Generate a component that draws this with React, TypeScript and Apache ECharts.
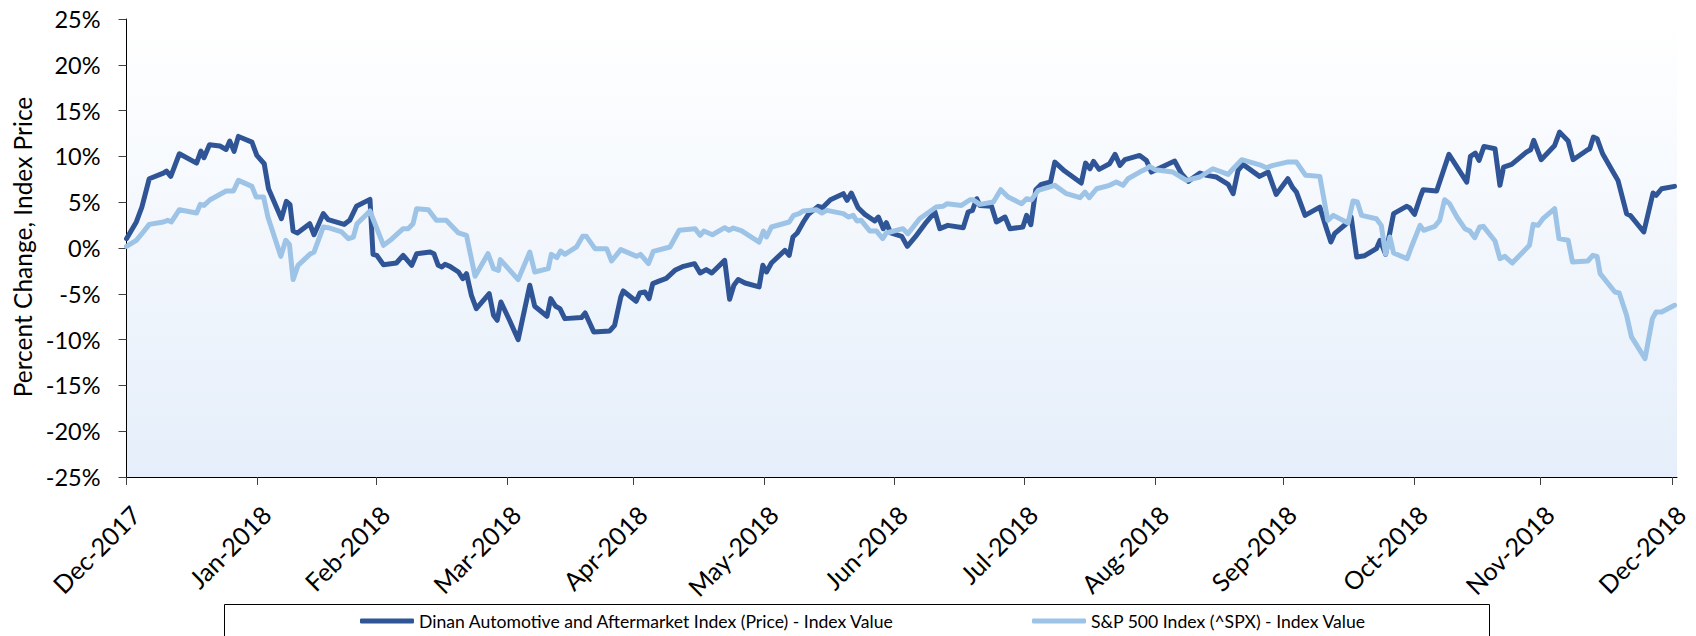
import React, { useEffect, useRef } from "react";
import * as echarts from "echarts";

// x = trading-day position (0 = first day, Dec-2017), y = percent change
const monthTicks = [0, 21.3, 40.6, 61.9, 82.5, 103.8, 124.8, 146.0, 167.3, 188.1, 209.4, 230.0, 251.4];
const monthLabels = [
  "Dec-2017", "Jan-2018", "Feb-2018", "Mar-2018", "Apr-2018", "May-2018", "Jun-2018",
  "Jul-2018", "Aug-2018", "Sep-2018", "Oct-2018", "Nov-2018", "Dec-2018",
];
const yTicks = { min: -25, max: 25, step: 5 };

const dinanName = "Dinan Automotive and Aftermarket Index (Price) - Index Value";
const spxName = "S&P 500 Index (^SPX) - Index Value";

const dinanPoints: [number, number][] = [
  [0, 1.02], [1.6, 2.84], [2.5, 4.47], [3.7, 7.56], [6.0, 8.18], [6.5, 8.4], [7.2, 7.82], [8.6, 10.29],
  [11.4, 9.27], [12.1, 10.58], [12.6, 9.85], [13.5, 11.27], [15.2, 11.13], [16.2, 10.76], [16.8, 11.67],
  [17.5, 10.55], [18.2, 12.18], [20.4, 11.56], [21.2, 10.11], [22.4, 9.2], [23.1, 6.47], [25.2, 3.2],
  [26.0, 5.09], [26.6, 4.73], [27.1, 1.85], [27.8, 1.64], [29.8, 2.65], [30.5, 1.45], [32.0, 3.75],
  [32.8, 3.09], [35.4, 2.58], [36.3, 3.02], [37.4, 4.55], [39.6, 5.31], [40.1, -0.69], [40.7, -0.8],
  [41.8, -1.82], [43.9, -1.64], [45.0, -0.8], [46.4, -1.89], [47.2, -0.62], [49.4, -0.44], [50.0, -0.62],
  [50.7, -1.89], [51.3, -2.07], [51.8, -1.78], [52.6, -2.0], [54.0, -2.62], [54.7, -3.35], [55.3, -2.8],
  [56.1, -5.16], [56.9, -6.62], [59.0, -4.98], [59.7, -7.35], [60.3, -7.89], [60.9, -5.89], [62.3, -7.89],
  [63.7, -10.0], [65.6, -4.07], [66.4, -6.36], [68.4, -7.45], [69.0, -5.53], [69.8, -6.36], [70.5, -6.62],
  [71.3, -7.71], [74.0, -7.6], [74.6, -7.09], [76.0, -9.16], [78.6, -9.05], [79.4, -8.44], [80.4, -5.35],
  [80.8, -4.69], [82.9, -5.82], [83.5, -4.91], [84.3, -4.8], [85.0, -5.53], [85.6, -3.89], [86.5, -3.64],
  [87.8, -3.31], [89.2, -2.44], [90.6, -2.0], [92.4, -1.71], [93.3, -2.73], [94.3, -2.36], [95.2, -2.73],
  [97.3, -1.35], [98.1, -5.6], [98.8, -4.07], [99.5, -3.45], [100.6, -3.82], [102.9, -4.25], [103.5, -1.89],
  [104.1, -2.62], [104.9, -1.64], [107.1, -0.25], [107.8, -0.8], [108.4, 1.2], [109.1, 1.64], [110.1, 2.84],
  [110.9, 3.67], [112.5, 4.55], [113.2, 4.4], [114.5, 5.27], [116.6, 5.93], [117.2, 5.2], [117.9, 6.0],
  [119.0, 4.4], [120.1, 3.67], [121.7, 2.95], [122.3, 3.38], [123.1, 2.11], [123.6, 2.76], [124.3, 1.64],
  [126.1, 1.27], [127.0, 0.18], [128.5, 1.38], [129.9, 2.65], [131.5, 3.93], [132.3, 2.11], [133.6, 2.47],
  [136.1, 2.22], [136.9, 3.93], [137.6, 4.11], [138.3, 5.38], [138.8, 4.65], [140.7, 4.55], [141.5, 2.84],
  [142.9, 3.38], [143.7, 2.11], [145.8, 2.29], [146.4, 3.56], [147.1, 2.55], [147.9, 6.36], [148.8, 6.95],
  [150.3, 7.2], [151.0, 9.38], [152.6, 8.4], [155.3, 7.09], [156.0, 9.27], [156.7, 8.65], [157.3, 9.45],
  [158.2, 8.58], [159.9, 9.2], [160.8, 10.22], [161.6, 9.02], [162.4, 9.64], [164.8, 10.11], [165.9, 9.56],
  [166.7, 8.29], [170.5, 9.49], [171.6, 8.11], [172.7, 7.27], [174.6, 8.18], [175.7, 7.93], [177.3, 7.75],
  [179.2, 6.95], [180.0, 5.93], [180.8, 8.47], [181.6, 9.13], [184.3, 7.82], [185.7, 8.29], [187.0, 5.85],
  [188.9, 7.56], [189.7, 6.58], [190.3, 6.11], [191.7, 3.56], [194.1, 4.47], [195.1, 2.29], [195.9, 0.65],
  [196.5, 1.56], [198.4, 2.65], [199.2, 3.38], [200.1, -0.98], [201.4, -0.84], [203.3, -0.07], [203.9, 0.84],
  [204.8, -0.69], [206.1, 3.75], [208.2, 4.55], [208.7, 4.4], [209.5, 3.67], [210.4, 5.49], [210.9, 6.36],
  [213.1, 6.22], [215.1, 10.22], [218.0, 7.2], [218.6, 10.0], [219.4, 10.36], [220.0, 9.56], [220.8, 11.09],
  [222.6, 10.84], [223.4, 6.84], [224.0, 8.84], [225.3, 9.13], [227.7, 10.47], [228.4, 10.73], [228.9, 11.75],
  [230.1, 9.64], [232.3, 11.2], [233.1, 12.65], [234.5, 11.67], [235.3, 9.64], [237.5, 10.65], [238.0, 10.84],
  [238.6, 12.11], [239.2, 11.93], [240.1, 10.29], [241.8, 8.29], [242.6, 7.38], [244.0, 3.75], [244.6, 3.56],
  [246.8, 1.75], [248.3, 6.0], [248.8, 5.75], [249.7, 6.47], [251.8, 6.73],
];

const spxPoints: [number, number][] = [
  [0, 0.18], [1.6, 0.84], [2.5, 1.56], [3.7, 2.58], [6.0, 2.84], [6.7, 3.02], [7.3, 2.84], [8.6, 4.18],
  [11.4, 3.82], [12.0, 4.76], [12.6, 4.65], [13.6, 5.27], [16.2, 6.22], [17.4, 6.22], [18.2, 7.38],
  [20.4, 6.73], [21.1, 5.56], [22.3, 5.56], [23.0, 3.38], [25.1, -0.91], [25.9, 0.84], [26.5, 0.4],
  [27.1, -3.45], [27.9, -1.89], [29.8, -0.69], [30.5, -0.44], [32.0, 2.29], [32.8, 2.22], [35.0, 1.75],
  [36.1, 1.02], [36.9, 1.2], [37.5, 2.65], [39.6, 4.04], [41.8, 0.29], [42.9, 0.84], [45.0, 2.11],
  [45.8, 2.11], [46.6, 2.65], [47.2, 4.29], [49.1, 4.18], [50.4, 3.02], [52.0, 3.02], [54.0, 1.64],
  [55.3, 1.38], [56.7, -3.09], [58.8, -0.62], [59.7, -2.25], [60.5, -2.44], [60.8, -1.27], [63.7, -3.45],
  [65.6, -0.44], [66.4, -2.62], [68.6, -2.25], [69.1, -0.69], [70.0, -1.05], [70.6, -0.33], [71.3, -0.69],
  [73.2, 0.11], [74.2, 1.27], [74.8, 1.27], [76.2, -0.07], [78.1, -0.07], [78.9, -1.42], [80.4, -0.18],
  [83.0, -0.91], [83.6, -0.69], [84.9, -1.71], [85.7, -0.36], [88.4, 0.11], [89.9, 1.93], [92.5, 2.11],
  [93.3, 1.38], [93.9, 1.85], [95.3, 1.45], [97.3, 2.22], [98.0, 1.93], [98.7, 2.18], [100.0, 1.9],
  [102.9, 0.65], [103.6, 1.85], [104.1, 1.2], [104.9, 2.29], [107.8, 2.84], [108.5, 3.56], [109.4, 3.75],
  [110.1, 4.04], [112.2, 4.18], [113.1, 3.82], [113.9, 4.11], [116.6, 3.75], [117.4, 3.38], [118.2, 3.56],
  [118.8, 2.95], [119.5, 3.02], [120.9, 1.85], [122.0, 1.85], [123.0, 1.02], [123.6, 1.64], [126.3, 2.11],
  [127.1, 1.56], [129.0, 3.2], [131.7, 4.47], [132.8, 4.55], [133.5, 4.84], [135.8, 4.65], [137.2, 5.27],
  [137.7, 5.27], [138.8, 4.76], [141.0, 5.02], [142.2, 6.36], [143.4, 5.56], [145.6, 4.84], [146.4, 5.38],
  [147.2, 5.27], [148.3, 6.29], [151.0, 6.84], [152.9, 5.93], [155.1, 5.49], [155.9, 6.11], [156.6, 5.49],
  [157.8, 6.47], [159.9, 6.84], [161.0, 7.2], [162.1, 6.84], [162.9, 7.56], [164.8, 8.29], [165.9, 8.65],
  [166.4, 8.91], [167.3, 8.55], [170.2, 8.29], [172.4, 7.38], [174.6, 7.75], [176.7, 8.65], [179.2, 8.04],
  [180.0, 8.65], [181.4, 9.64], [184.6, 9.02], [185.4, 8.76], [186.5, 9.02], [188.8, 9.38], [190.3, 9.38],
  [191.8, 7.93], [194.1, 7.82], [195.4, 3.02], [196.3, 3.56], [198.7, 2.73], [199.5, 5.13], [200.2, 5.02],
  [200.9, 3.56], [203.3, 3.2], [204.1, 2.47], [204.8, -0.69], [205.5, 1.2], [206.1, -0.55], [208.3, -1.16],
  [209.0, 0.11], [210.4, 2.47], [211.0, 1.93], [212.8, 2.36], [213.6, 3.02], [214.4, 5.27], [215.2, 4.84],
  [216.4, 3.38], [217.7, 2.11], [218.5, 1.85], [219.3, 1.13], [220.1, 2.29], [220.7, 2.36], [222.6, 0.76],
  [223.4, -1.16], [224.2, -0.91], [225.4, -1.64], [228.2, 0.29], [228.8, 2.58], [229.6, 2.47], [230.4, 3.2],
  [232.3, 4.29], [233.0, 1.02], [234.5, 0.84], [235.2, -1.53], [237.7, -1.42], [238.5, -0.8], [239.2, -0.91],
  [239.7, -2.8], [242.1, -4.8], [242.8, -4.91], [244.0, -7.35], [244.8, -9.71], [247.0, -12.07], [248.2, -7.71],
  [248.8, -6.98], [249.7, -6.98], [251.8, -6.25],
];

const FONT = "Lato";

export default function App() {
  const ref = useRef<HTMLDivElement>(null);
  useEffect(() => {
    if (!ref.current) return;
    const chart = echarts.init(ref.current, null, { renderer: "svg" });
    const labelFor = (v: number) => {
      let best = 0;
      for (let i = 1; i < monthTicks.length; i++) {
        if (Math.abs(monthTicks[i] - v) < Math.abs(monthTicks[best] - v)) best = i;
      }
      return monthLabels[best];
    };
    chart.setOption({
      animation: false,
      backgroundColor: "#ffffff",
      textStyle: { fontFamily: FONT },
      grid: {
        left: 126.5,
        top: 19,
        width: 1550.5,
        height: 458,
        show: true,
        borderWidth: 0,
        backgroundColor: new echarts.graphic.LinearGradient(0, 0, 0, 1, [
          { offset: 0, color: "#ffffff" },
          { offset: 1, color: "#e5eefa" },
        ]),
      },
      xAxis: {
        type: "value",
        min: 0,
        max: 252.2,
        splitLine: { show: false },
        axisLine: { onZero: false, lineStyle: { color: "#000", width: 1 } },
        axisTick: { show: true, length: 8, customValues: monthTicks, lineStyle: { color: "#404040" } },
        axisLabel: {
          customValues: monthTicks,
          rotate: 45,
          margin: 24,
          verticalAlign: "top",
          fontFamily: FONT,
          fontSize: 25,
          color: "#000",
          formatter: (v: number) => labelFor(v),
        },
      },
      yAxis: {
        type: "value",
        min: yTicks.min,
        max: yTicks.max,
        interval: yTicks.step,
        splitLine: { show: false },
        axisLine: { show: true, lineStyle: { color: "#000", width: 1 } },
        axisTick: { show: true, length: 8, lineStyle: { color: "#404040" } },
        axisLabel: {
          margin: 26,
          fontFamily: FONT,
          fontSize: 23.5,
          color: "#000",
          formatter: (v: number) => `${v}%`,
        },
      },
      legend: [
        {
          data: [dinanName],
          left: 360,
          top: 612,
          padding: 0,
          icon: "roundRect",
          itemWidth: 54,
          itemHeight: 5,
          textStyle: { fontFamily: FONT, fontSize: 17.6, color: "#000" },
        },
        {
          data: [spxName],
          left: 1032,
          top: 612,
          padding: 0,
          icon: "roundRect",
          itemWidth: 54,
          itemHeight: 5,
          textStyle: { fontFamily: FONT, fontSize: 17.6, color: "#000" },
        },
      ],
      graphic: [
        {
          type: "rect",
          z: -1,
          shape: { x: 224.5, y: 604.5, width: 1265, height: 60 },
          style: { fill: "#ffffff", stroke: "#000", lineWidth: 1 },
        },
        {
          type: "text",
          x: 22.5,
          y: 247,
          rotation: Math.PI / 2,
          style: {
            text: "Percent Change, Index Price",
            fontFamily: FONT,
            fontSize: 24.5,
            fill: "#000",
            align: "center",
            verticalAlign: "middle",
          },
        },
      ],
      series: [
        {
          name: dinanName,
          type: "line",
          data: dinanPoints,
          showSymbol: false,
          color: "#2F5597",
          lineStyle: { width: 5, color: "#2F5597", join: "round", cap: "round" },
        },
        {
          name: spxName,
          type: "line",
          data: spxPoints,
          showSymbol: false,
          color: "#9DC3E6",
          lineStyle: { width: 5, color: "#9DC3E6", join: "round", cap: "round" },
        },
      ],
    });
    return () => chart.dispose();
  }, []);
  return (
    <div
      ref={ref}
      style={{ position: "absolute", left: 0, top: 0, width: 1696, height: 636 }}
    />
  );
}
